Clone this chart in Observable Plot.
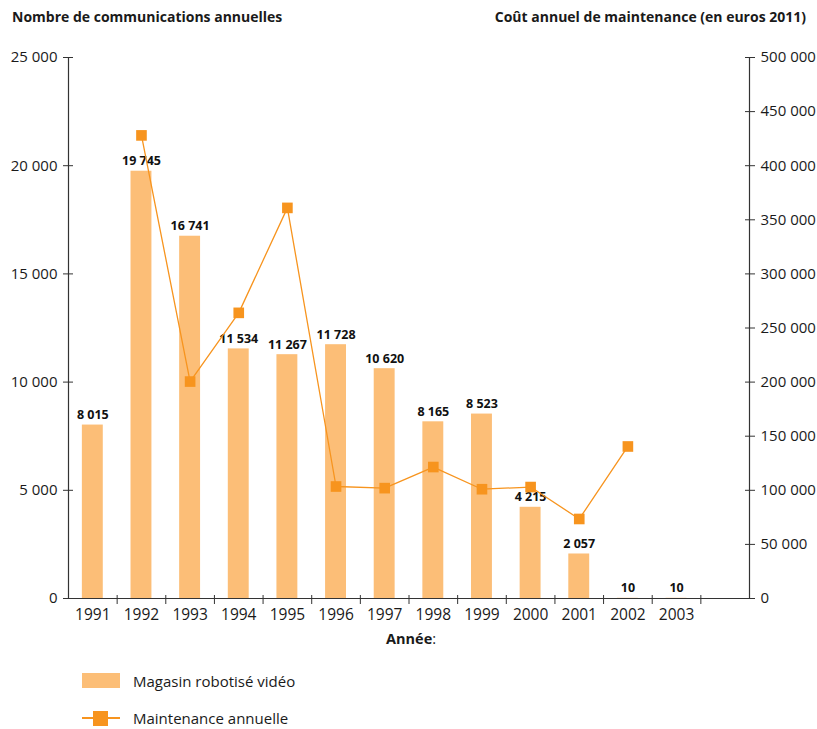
<!DOCTYPE html>
<html><head><meta charset="utf-8">
<script src="https://cdn.jsdelivr.net/npm/d3@7"></script>
<script src="https://cdn.jsdelivr.net/npm/@observablehq/plot@0.6"></script>
<style>
body{margin:0;background:#fff;font-family:"Open Sans",sans-serif;color:#1a1a1a;}
#wrap{position:relative;width:817px;height:729px;}
.t{position:absolute;font-size:14px;white-space:nowrap;}
.b{font-weight:bold;}
</style></head><body>
<div id="wrap">
<div id="chart" style="position:absolute;left:0;top:0;"></div>
<div class="t b" style="left:12px;top:7px;">Nombre de communications annuelles</div>
<div class="t b" style="right:11px;top:7px;">Coût annuel de maintenance (en euros 2011)</div>
<div class="t" style="left:386px;top:629px;font-size:14.5px;"><b>Année</b>:</div>
<div style="position:absolute;left:82px;top:673px;width:38px;height:15px;background:#fcbe77;"></div>
<div class="t" style="left:133px;top:671px;font-size:15px;">Magasin robotisé vidéo</div>
<div style="position:absolute;left:82px;top:717px;width:38px;height:1.6px;background:#f7941e;"></div>
<div style="position:absolute;left:93px;top:711px;width:15px;height:15px;background:#f7941e;"></div>
<div class="t" style="left:133px;top:708px;font-size:15px;">Maintenance annuelle</div>
</div>
<script>
const years = ["1991","1992","1993","1994","1995","1996","1997","1998","1999","2000","2001","2002","2003"];
const communications = [8015,19745,16741,11534,11267,11728,10620,8165,8523,4215,2057,10,10];
const maintYears = ["1992","1993","1994","1995","1996","1997","1998","1999","2000","2001","2002"];
const maintenance = [428000,200500,264000,361000,103500,102000,121500,101000,103000,73500,140500];
const leftTicks = [0,5000,10000,15000,20000,25000];
const rightTicks = [0,50000,100000,150000,200000,250000,300000,350000,400000,450000,500000];
const ratio = 20; // right axis 500 000 ↔ left axis 25 000

const locale = d3.formatLocale({decimal:",",thousands:"\u00a0",grouping:[3],currency:["","€"]});
const fmt = locale.format(",d");
const domainX = [...years, ""];

const bars = years.map((y,i)=>({year:y,value:communications[i]}));
const maint = maintYears.map((y,i)=>({year:y,value:maintenance[i]/ratio}));
const rightTicksL = rightTicks.map(v=>v/ratio);

const W = 817, H = 650;
const step = (W-68-68)/domainX.length;

const chart = Plot.plot({
  width: W, height: H,
  marginTop: 57, marginBottom: 52, marginLeft: 68, marginRight: 68,
  style:{fontFamily:"'Open Sans',sans-serif", fontSize:"13px", color:"#1a1a1a", background:"transparent"},
  x:{domain: domainX, paddingInner:0.57, paddingOuter:0.285, round:false, axis:null, label:null},
  y:{domain:[0,25000], axis:null, label:null},
  marks:[
    Plot.barY(bars,{x:"year",y:"value",fill:"#fcbe77"}),
    Plot.text(bars,{x:"year",y:"value",text:d=>fmt(d.value),dy:-10,fontWeight:"bold",fontSize:12.5,fill:"#111"}),
    Plot.line(maint,{x:"year",y:"value",stroke:"#f7941e",strokeWidth:1.3}),
    Plot.dot(maint,{x:"year",y:"value",symbol:"square",r:6,fill:"#f7941e"}),
    Plot.ruleY([0],{stroke:"#333",strokeWidth:1.2}),
    Plot.ruleX([domainX[0]],{dx:-step/2,stroke:"#333",strokeWidth:1.2}),
    Plot.ruleX([domainX[domainX.length-1]],{dx:step/2,stroke:"#333",strokeWidth:1.2}),
    Plot.axisY({ticks:leftTicks,anchor:"left",label:null,tickSize:5,tickPadding:6,tickFormat:fmt,fontSize:15,stroke:"#333"}),
    Plot.axisY({ticks:leftTicks,anchor:"left",label:null,tickSize:-5,tickFormat:()=>"",stroke:"#333"}),
    Plot.axisY({ticks:rightTicksL,anchor:"right",label:null,tickSize:5,tickPadding:6,tickFormat:d=>fmt(d*ratio),fontSize:15,stroke:"#333"}),
    Plot.axisY({ticks:rightTicksL,anchor:"right",label:null,tickSize:-5,tickFormat:()=>"",stroke:"#333"}),
    Plot.axisX({ticks:domainX.slice(1),anchor:"bottom",label:null,tickSize:6,dx:-step/2,tickFormat:()=>"",stroke:"#333"}),
    Plot.axisX({ticks:domainX.slice(1),anchor:"bottom",label:null,tickSize:-3,dx:-step/2,tickFormat:()=>"",stroke:"#333"}),
    Plot.axisX({ticks:years,anchor:"bottom",label:null,tickSize:0,tickPadding:10,fontSize:15.5})
  ]
});
document.getElementById("chart").appendChild(chart);
</script>
</body></html>
